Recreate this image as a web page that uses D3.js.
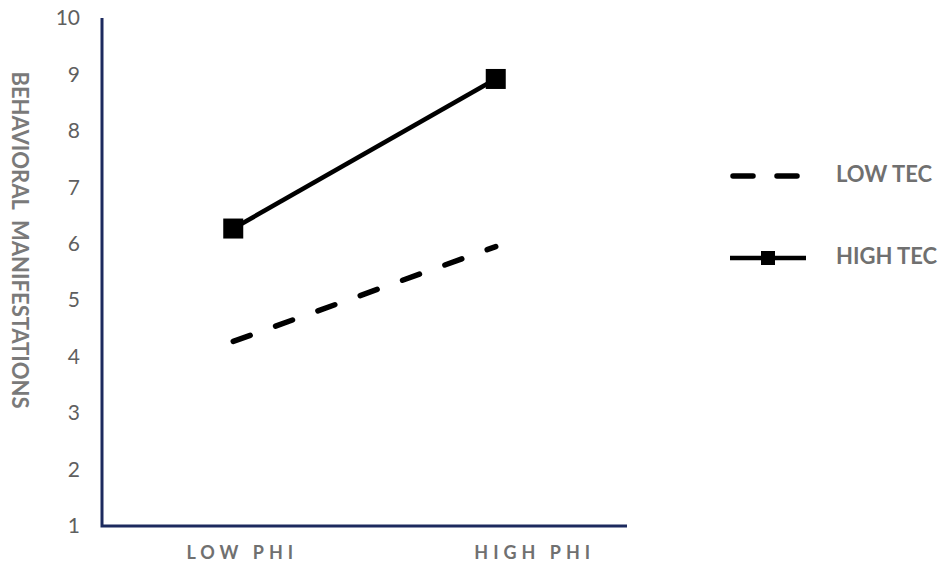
<!DOCTYPE html>
<html>
<head>
<meta charset="utf-8">
<script src="https://cdn.jsdelivr.net/npm/d3@7"></script>
<style>
  html, body { margin: 0; padding: 0; background: #fff; }
  svg { display: block; }
</style>
</head>
<body>
<svg id="chart" width="945" height="572"></svg>
<script>
const categories = ["LOW PHI", "HIGH PHI"];
const seriesNames = ["LOW TEC", "HIGH TEC"];
const lowTec = [4.27, 5.95];
const highTec = [6.27, 8.92];
const yTicks = [1, 2, 3, 4, 5, 6, 7, 8, 9, 10];
const yTitle = "BEHAVIORAL\u00A0\u00A0MANIFESTATIONS";

(function () {
const svg = d3.select("#chart");
const mLeft = 102, mRight = 627, mTop = 18, mBottom = 526;
const axisColor = "#1c2a5e";
const textGray = "#707070";
const font = "Lato, 'Open Sans', sans-serif";

const x = d3.scaleBand().domain(categories).range([mLeft, mRight]).padding(0);
const y = d3.scaleLinear().domain([1, 10]).range([mBottom, mTop]);

// Y axis labels
const yAxis = d3.axisLeft(y).tickValues(yTicks).tickSize(0).tickPadding(22).tickFormat(d3.format("d"));
const gy = svg.append("g").attr("transform", `translate(${mLeft},0)`).call(yAxis);
gy.select(".domain").remove();
gy.selectAll("text").attr("font-family", font).attr("font-size", 21).attr("fill", "#5f5f5f");

// X axis labels
const xAxis = d3.axisBottom(x).tickSize(0).tickPadding(20);
const gx = svg.append("g").attr("transform", `translate(0,${mBottom})`).call(xAxis);
gx.select(".domain").remove();
const labelShift = [9, 39];
gx.selectAll("text")
  .attr("font-family", font).attr("font-size", 18).attr("font-weight", "bold")
  .attr("fill", textGray).attr("letter-spacing", "5px")
  .attr("dx", (d, i) => labelShift[i]);

// Axis lines
svg.append("path")
  .attr("d", `M${mLeft},${y(10)}V${mBottom}H${mRight}`)
  .attr("fill", "none").attr("stroke", axisColor).attr("stroke-width", 3);

// Y title
svg.append("text")
  .attr("transform", `translate(18,${(68 + 412) / 2}) rotate(90)`)
  .attr("text-anchor", "middle").attr("dominant-baseline", "middle")
  .attr("font-family", font).attr("font-size", 22).attr("font-weight", "bold")
  .attr("fill", "#7a7a7a")
  .text(yTitle);

const line = d3.line().x((d, i) => x(categories[i]) + x.bandwidth() / 2).y(d => y(d));

// LOW TEC dashed
svg.append("path").datum(lowTec)
  .attr("d", line).attr("fill", "none").attr("stroke", "#000")
  .attr("stroke-width", 5.5).attr("stroke-dasharray", "18,27").attr("stroke-linecap", "round");

// HIGH TEC solid with square markers
svg.append("path").datum(highTec)
  .attr("d", line).attr("fill", "none").attr("stroke", "#000").attr("stroke-width", 4.5);
svg.selectAll("rect.mk").data(highTec).join("rect").attr("class", "mk")
  .attr("x", (d, i) => x(categories[i]) + x.bandwidth() / 2 - 10)
  .attr("y", d => y(d) - 10)
  .attr("width", 20).attr("height", 20).attr("fill", "#000");

// Legend
const lg = svg.append("g");
lg.append("line").attr("x1", 733).attr("x2", 800).attr("y1", 176).attr("y2", 176)
  .attr("stroke", "#000").attr("stroke-width", 5.5).attr("stroke-dasharray", "20,24").attr("stroke-linecap", "round");
lg.append("line").attr("x1", 730).attr("x2", 806).attr("y1", 258).attr("y2", 258)
  .attr("stroke", "#000").attr("stroke-width", 4.5);
lg.append("rect").attr("x", 761).attr("y", 251).attr("width", 14).attr("height", 14).attr("fill", "#000");
lg.selectAll("text.lt").data(seriesNames).join("text").attr("class", "lt")
  .attr("x", 836).attr("y", (d, i) => i === 0 ? 176 : 258)
  .attr("dominant-baseline", "middle")
  .attr("font-family", font).attr("font-size", 22).attr("font-weight", "bold")
  .attr("fill", textGray)
  .text(d => d);
})();
</script>
</body>
</html>
